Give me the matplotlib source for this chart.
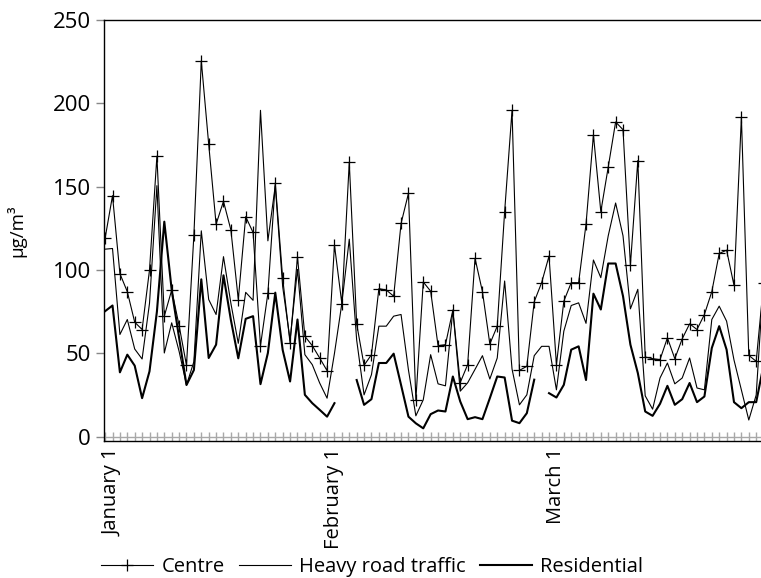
import numpy as np
import matplotlib
matplotlib.use("Agg")
import matplotlib.pyplot as plt

plt.rcParams['font.family'] = ['Open Sans', 'DejaVu Sans']

nan = np.nan
centre = [119.1, 144.6, 97.8, 87, 68.7, 64.3, 100, 168.3, 72.3, 88,
          66.7, 42.8, 121, 225.5, 175.5, 127.5, 141.2, 124, 82.3, 132,
          122.5, 54.6, 86, 152.2, 95, 56.2, 108, 60.2, 54.6, 47.2,
          39.6, 114.9, 79.8, 164.7, 67.7, 42.8, 49.2, 88.8, 88, 84.3,
          127.9, 146, 22.1, 92.8, 87.3, 54.6, 55.2, 75.9, 32.5, 43.2,
          107, 87, 55.6, 66.3, 135, 195.8, 39.8, 42.2, 81, 92.4,
          108.4, 43.2, 81.3, 92.4, 92.4, 127.5, 181.1, 135, 161.7, 188.8,
          184.2, 103, 165.7, 47.8, 46.8, 46.2, 59.3, 46.8, 58.7, 67.7,
          64.3, 73.3, 87, 109.9, 111.9, 90.8, 191.8, 48.8, 45.2, 92]
heavy = [112.5, 112.9, 61.3, 70.3, 52.6, 46.6, 80, 150.6, 50.2, 68.3,
         51.2, 31, 45, 123.5, 82.3, 73.3, 108, 80, 56, 86.6,
         81.8, 195.8, 117.5, 150.6, 90, 58, 100.4, 49.2, 43.2, 32.2,
         23.1, 50, 80, 118.5, 58, 25.1, 37.2, 66.3, 66.3, 72.3,
         73.3, 40, 12.5, 22.1, 49.2, 31.7, 30.5, 75.9, 27.3, 32.3,
         40.4, 48.6, 34.6, 47.2, 93.4, 40.6, 19.1, 25.1, 48.6, 54.2,
         54.2, 28.1, 63.3, 78.7, 80.3, 68, 106, 95.4, 120.5, 140.2,
         120.5, 76.7, 88.4, 24.5, 16.5, 35.2, 44.2, 31.7, 35.2, 47.2,
         29.2, 28.1, 70.3, 78.3, 69.3, 46, 28, 10, 25, 95]
residential = [75.3, 78.7, 38.6, 49.2, 42.6, 23.1, 39.2, 75, 129, 88,
               59.3, 31, 40, 94.4, 47.2, 55.2, 96.8, 70, 47, 70.7,
               72.3, 31.5, 50.2, 86.4, 52, 33.1, 70.3, 25.1, 20.1, 16.1,
               12, 20.1, nan, nan, 34, 19.1, 22.5, 44.2, 44.2, 49.8,
               31, 12, 8, 5, 13.5, 15.7, 15.1, 36.1, 21.1, 10.5,
               11.7, 10.5, 23.1, 36.1, 35.5, 9.6, 8.1, 14.1, 34.2, nan,
               26.1, 23.5, 31.1, 52.2, 54.2, 34, 85.8, 76.3, 103.9, 103.9,
               84.3, 55.2, 38.2, 15.1, 12.5, 19.7, 30.5, 19.1, 22.5, 32.2,
               20.7, 24.1, 53.2, 66.3, 52.2, 20.7, 17.1, 20.7, 20.7, 43]
days = np.arange(len(centre))
tick_pos = [1, 31, 61]
tick_labels = ["January 1", "February 1", "March 1"]

fig = plt.figure(figsize=(7.61, 5.78), dpi=100)
ax = fig.add_axes([104/761, 1-441/578, 1-104/761, (441-20)/578])

# baseline ladder
ax.plot(days, np.zeros(len(days)), color='#a8a8a8', lw=1.0,
        marker='|', ms=6.5, mew=1.0, zorder=1)

ax.plot(days, centre, color='black', lw=0.8, marker='+', ms=8, mew=0.9,
        label='Centre', zorder=3)
ax.plot(days, heavy, color='black', lw=0.8, label='Heavy road traffic', zorder=3)
ax.plot(days, residential, color='black', lw=1.5, label='Residential', zorder=3)

ax.set_xlim(-0.15, 88.65)
ax.set_ylim(-2.6, 250)
ax.set_yticks([0, 50, 100, 150, 200, 250])
ax.set_xticks(tick_pos)
ax.set_xticklabels(tick_labels, rotation=90, fontsize=14.5)
ax.tick_params(axis='x', length=0, pad=5)
ax.tick_params(axis='y', length=6, width=1, color='#888888', labelsize=16, pad=3.5)

for s in ['left', 'top', 'bottom']:
    ax.spines[s].set_color('black')
    ax.spines[s].set_linewidth(1.0)
ax.spines['right'].set_visible(False)

ax.set_ylabel('µg/m³', fontsize=13.5)
ax.yaxis.set_label_coords(-0.118, 0.5)

fig.legend(loc='center', bbox_to_anchor=(372/761, 1-567/578), ncol=3,
           frameon=False, fontsize=14.5, handlelength=2.6, handletextpad=0.4,
           columnspacing=0.7)

fig.savefig('out.png', dpi=100)
